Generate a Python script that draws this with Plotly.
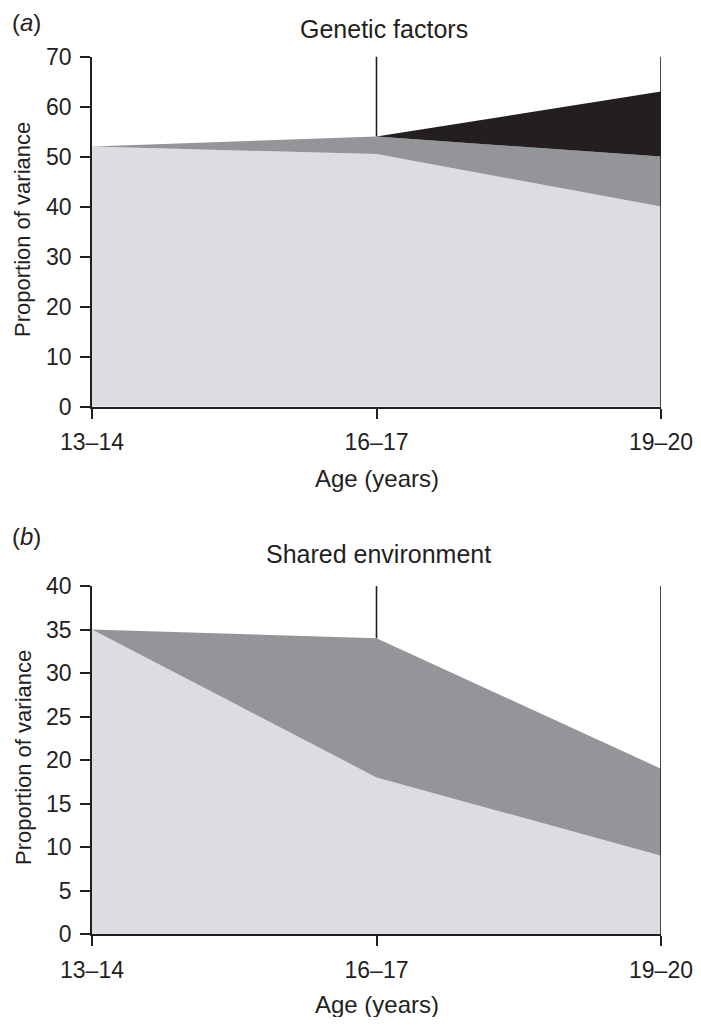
import plotly.graph_objects as go

AGES = ["13–14", "16–17", "19–20"]

# panel (a) genetic factors, stacked components
GEN_LIGHT = [52, 50.5, 40]
GEN_MID = [0, 3.5, 10]
GEN_DARK = [0, 0, 13]

# panel (b) shared environment
SH_LIGHT = [35, 18, 9]
SH_MID = [0, 16, 10]

GEN_TICKS = [0, 10, 20, 30, 40, 50, 60, 70]
SH_TICKS = [0, 5, 10, 15, 20, 25, 30, 35, 40]

LIGHT = "#dcdde0"
MID = "#939598"
DARK = "#231f20"
INK = "#231f20"
FONT = "Liberation Sans"

# the page body has an 8px margin, so the figure is sized to fit inside the window
OFF = 8
W, H = 701 - 2 * OFF, 1025 - 2 * OFF


def add_stack(fig, comps, colors, xa, ya, group):
    for vals, col in zip(comps, colors):
        fig.add_trace(go.Scatter(
            x=AGES, y=vals, stackgroup=group, mode="lines",
            line=dict(width=0, color=col), fillcolor=col,
            xaxis=xa, yaxis=ya, showlegend=False, hoverinfo="skip",
        ))


def add_rules(fig, comps, ymax, xa, ya):
    # vertical rules at the later ages: from top of the stack (16-17) and full height (19-20)
    top_mid = sum(c[1] for c in comps)
    for x, y0 in [(AGES[1], top_mid), (AGES[2], 0)]:
        fig.add_trace(go.Scatter(x=[x, x], y=[y0, ymax], mode="lines",
                                 line=dict(color=INK, width=1.6), xaxis=xa, yaxis=ya,
                                 showlegend=False, hoverinfo="skip", cliponaxis=False))


fig = go.Figure()
add_stack(fig, [GEN_LIGHT, GEN_MID, GEN_DARK], [LIGHT, MID, DARK], "x", "y", "a")
add_rules(fig, [GEN_LIGHT, GEN_MID, GEN_DARK], GEN_TICKS[-1], "x", "y")
add_stack(fig, [SH_LIGHT, SH_MID], [LIGHT, MID], "x2", "y2", "b")
add_rules(fig, [SH_LIGHT, SH_MID], SH_TICKS[-1], "x2", "y2")

axis_common = dict(showline=True, linecolor=INK, linewidth=1.8, ticks="outside",
                   tickcolor=INK, tickwidth=1.6, ticklen=10, showgrid=False, zeroline=False,
                   automargin=False, ticklabelstandoff=4,
                   tickfont=dict(family=FONT, size=23, color=INK))

dom = lambda top, bot: [1 - (bot - OFF) / H, 1 - (top - OFF) / H]

fig.update_layout(
    width=W, height=H,
    margin=dict(l=92 - OFF, r=W - (661 - OFF), t=0, b=0),
    paper_bgcolor="white", plot_bgcolor="white",
    xaxis=dict(domain=[0, 1], anchor="y", type="category", range=[0, 2], **axis_common),
    yaxis=dict(domain=dom(56.5, 406.7), anchor="x", range=[0, 70],
               tickvals=GEN_TICKS, **axis_common),
    xaxis2=dict(domain=[0, 1], anchor="y2", type="category", range=[0, 2], **axis_common),
    yaxis2=dict(domain=dom(586, 934), anchor="x2", range=[0, 40],
                tickvals=SH_TICKS, **axis_common),
    font=dict(family=FONT, color=INK),
)

px_x = lambda p: (p - 92) / (661 - 92)
px_y = lambda p: 1 - (p - OFF) / H

notes = [
    ("(<i>a</i>)", 10, 23, 24, "left", 0),
    ("Genetic factors", 384, 29, 25, "center", 0),
    ("Age (years)", 377, 478, 24, "center", 0),
    ("Proportion of variance", 23, 230, 22, "center", -90),
    ("(<i>b</i>)", 10, 536, 24, "left", 0),
    ("Shared environment", 378, 554, 25, "center", 0),
    ("Age (years)", 377, 1004, 24, "center", 0),
    ("Proportion of variance", 23, 758, 22, "center", -90),
]
for text, x, y, size, anchor, ang in notes:
    fig.add_annotation(text=text, xref="paper", yref="paper", x=px_x(x), y=px_y(y),
                       xanchor=anchor, yanchor="middle", showarrow=False, textangle=ang,
                       font=dict(family=FONT, size=size, color=INK))

fig.write_html("out.html")
